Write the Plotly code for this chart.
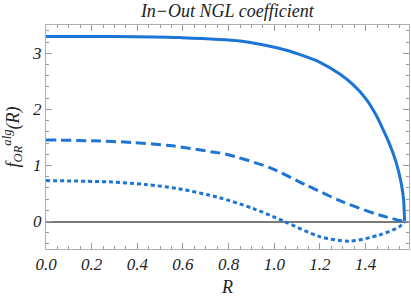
import plotly.graph_objects as go

# Solid curve
r_solid = [0.0, 0.3, 0.585, 0.85, 1.02, 1.11, 1.20, 1.287, 1.345, 1.403, 1.447, 1.473, 1.505, 1.534, 1.556, 1.566, 1.5708]
f_solid = [3.30, 3.30, 3.28, 3.22, 3.09, 2.98, 2.84, 2.63, 2.44, 2.18, 1.89, 1.67, 1.38, 1.05, 0.68, 0.40, 0.0]

# Dashed curve
r_dashed = [0.0, 0.2, 0.379, 0.553, 0.73, 0.79, 0.98, 1.14, 1.30, 1.46, 1.5708]
f_dashed = [1.455, 1.44, 1.41, 1.35, 1.24, 1.20, 0.96, 0.65, 0.35, 0.116, 0.0]

# Dotted curve
r_dotted = [0.0, 0.29, 0.436, 0.58, 0.76, 0.905, 1.045, 1.20, 1.33, 1.46, 1.549, 1.5708]
f_dotted = [0.73, 0.705, 0.66, 0.585, 0.425, 0.235, 0.0, -0.27, -0.35, -0.24, -0.09, 0.0]

x_ticks = [0.0, 0.2, 0.4, 0.6, 0.8, 1.0, 1.2, 1.4]
x_ticklabels = ["0.0", "0.2", "0.4", "0.6", "0.8", "1.0", "1.2", "1.4"]
y_ticks = [0, 1, 2, 3]
y_ticklabels = ["0", "1", "2", "3"]

color = "#1c74d4"
serif = "'Liberation Serif', 'Times New Roman', 'DejaVu Serif', serif"

fig = go.Figure()
fig.add_trace(go.Scatter(x=r_solid, y=f_solid, mode="lines",
                         line=dict(color=color, width=3, shape="spline", smoothing=0.8)))
fig.add_trace(go.Scatter(x=r_dashed, y=f_dashed, mode="lines",
                         line=dict(color=color, width=3, dash="10px,5px", shape="spline", smoothing=0.8)))
fig.add_trace(go.Scatter(x=r_dotted, y=f_dotted, mode="lines",
                         line=dict(color=color, width=3, dash="4px,3px", shape="spline", smoothing=0.8)))

axis_common = dict(
    showline=True, linecolor="#b0b0b0", linewidth=1, mirror="allticks",
    ticks="inside", ticklen=6, tickcolor="#999999", tickwidth=1,
    showgrid=False, automargin=False,
    tickfont=dict(family=serif, size=17, color="#222222", style="italic"),
)

fig.update_layout(
    width=411, height=297,
    margin=dict(l=46, r=2, t=25, b=48),
    paper_bgcolor="white", plot_bgcolor="white",
    showlegend=False,
    font=dict(family=serif),
    title=dict(text="In−Out NGL coefficient", x=0.553, xanchor="center", y=0.965, yanchor="middle",
               font=dict(family=serif, size=18, color="#222222", style="italic")),
    xaxis=dict(range=[0, 1.59], tickvals=x_ticks, ticktext=x_ticklabels,
               minor=dict(ticks="inside", ticklen=3, dtick=0.05, tick0=0, tickcolor="#999999", showgrid=False),
               zeroline=False,
               title=dict(text="R", standoff=6, font=dict(family=serif, size=18, color="#222222", style="italic")),
               **axis_common),
    yaxis=dict(range=[-0.49, 3.505], tickvals=y_ticks, ticktext=y_ticklabels,
               minor=dict(ticks="inside", ticklen=3, dtick=0.2, tick0=0, tickcolor="#999999", showgrid=False),
               zeroline=True, zerolinecolor="#7a7a7a", zerolinewidth=1.5,
               title=dict(text="f<sub>OR</sub><sup>alg</sup>(R)", standoff=12,
                          font=dict(family=serif, size=18, color="#222222", style="italic")),
               **axis_common),
)

fig.write_html("out.html", config={"displayModeBar": False},
               post_script="document.body.style.margin='0';document.body.style.overflow='hidden';")
